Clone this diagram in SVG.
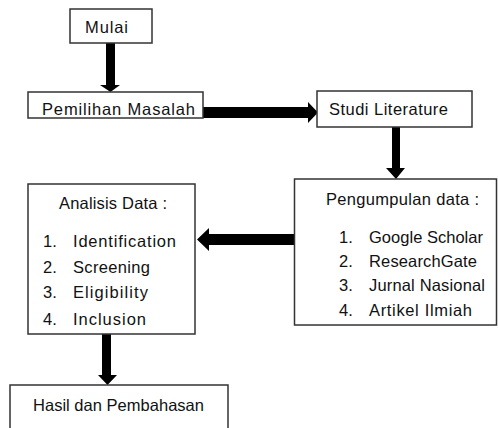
<svg xmlns="http://www.w3.org/2000/svg" width="498" height="428" viewBox="0 0 498 428">
<style>
.box{fill:#fff;stroke:#333;stroke-width:1.5}
.t{font-family:"Liberation Sans",Arial,sans-serif;font-size:16.5px;fill:#111}
.arr{fill:#000}
</style>
<rect width="498" height="428" fill="#fff"/>
<g id="connectors">
<polygon class="arr" points="106,43 115,43 115,85 120,85 110.5,92 100,85 106,85"/>
<polygon class="arr" points="203,107 308,107 308,102 318,112.5 308,123 308,118 203,118"/>
<polygon class="arr" points="392,127 400,127 400,168 405,168 396,179 386,168 392,168"/>
<polygon class="arr" points="295,234 209,234 209,228 197,239.5 209,251 209,245 295,245"/>
<polygon class="arr" points="102,334 111,334 111,375 117,375 107.5,385 98,375 102,375"/>
</g>
<g id="mulai">
<rect class="box" x="70" y="9" width="82" height="34"/>
<text class="t" x="85" y="33" textLength="43">Mulai</text>
</g>
<g id="pemilihan">
<rect class="box" x="28" y="92" width="175" height="26"/>
<text class="t" x="42" y="115" textLength="153">Pemilihan Masalah</text>
</g>
<g id="studi">
<rect class="box" x="317" y="91" width="155" height="36"/>
<text class="t" x="329" y="115" textLength="119">Studi Literature</text>
</g>
<g id="pengumpulan">
<rect class="box" x="294.5" y="179" width="202" height="146"/>
<text class="t" x="326" y="205" textLength="153">Pengumpulan data :</text>
<text class="t" x="339" y="243">1.</text><text class="t" x="369" y="243" textLength="114">Google Scholar</text>
<text class="t" x="339" y="267">2.</text><text class="t" x="369" y="267" textLength="108">ResearchGate</text>
<text class="t" x="339" y="291">3.</text><text class="t" x="369" y="291" textLength="116">Jurnal Nasional</text>
<text class="t" x="339" y="316">4.</text><text class="t" x="369" y="316" textLength="103">Artikel Ilmiah</text>
</g>
<g id="analisis">
<rect class="box" x="28" y="184" width="167" height="150"/>
<text class="t" x="59" y="209" textLength="108">Analisis Data :</text>
<text class="t" x="43" y="247">1.</text><text class="t" x="73" y="247" textLength="103">Identification</text>
<text class="t" x="43" y="273">2.</text><text class="t" x="73" y="273" textLength="77">Screening</text>
<text class="t" x="43" y="298">3.</text><text class="t" x="73" y="298" textLength="75">Eligibility</text>
<text class="t" x="43" y="325">4.</text><text class="t" x="73" y="325" textLength="73">Inclusion</text>
</g>
<g id="hasil">
<rect class="box" x="10" y="385" width="218" height="50"/>
<text class="t" x="33" y="411" textLength="171">Hasil dan Pembahasan</text>
</g>
</svg>
